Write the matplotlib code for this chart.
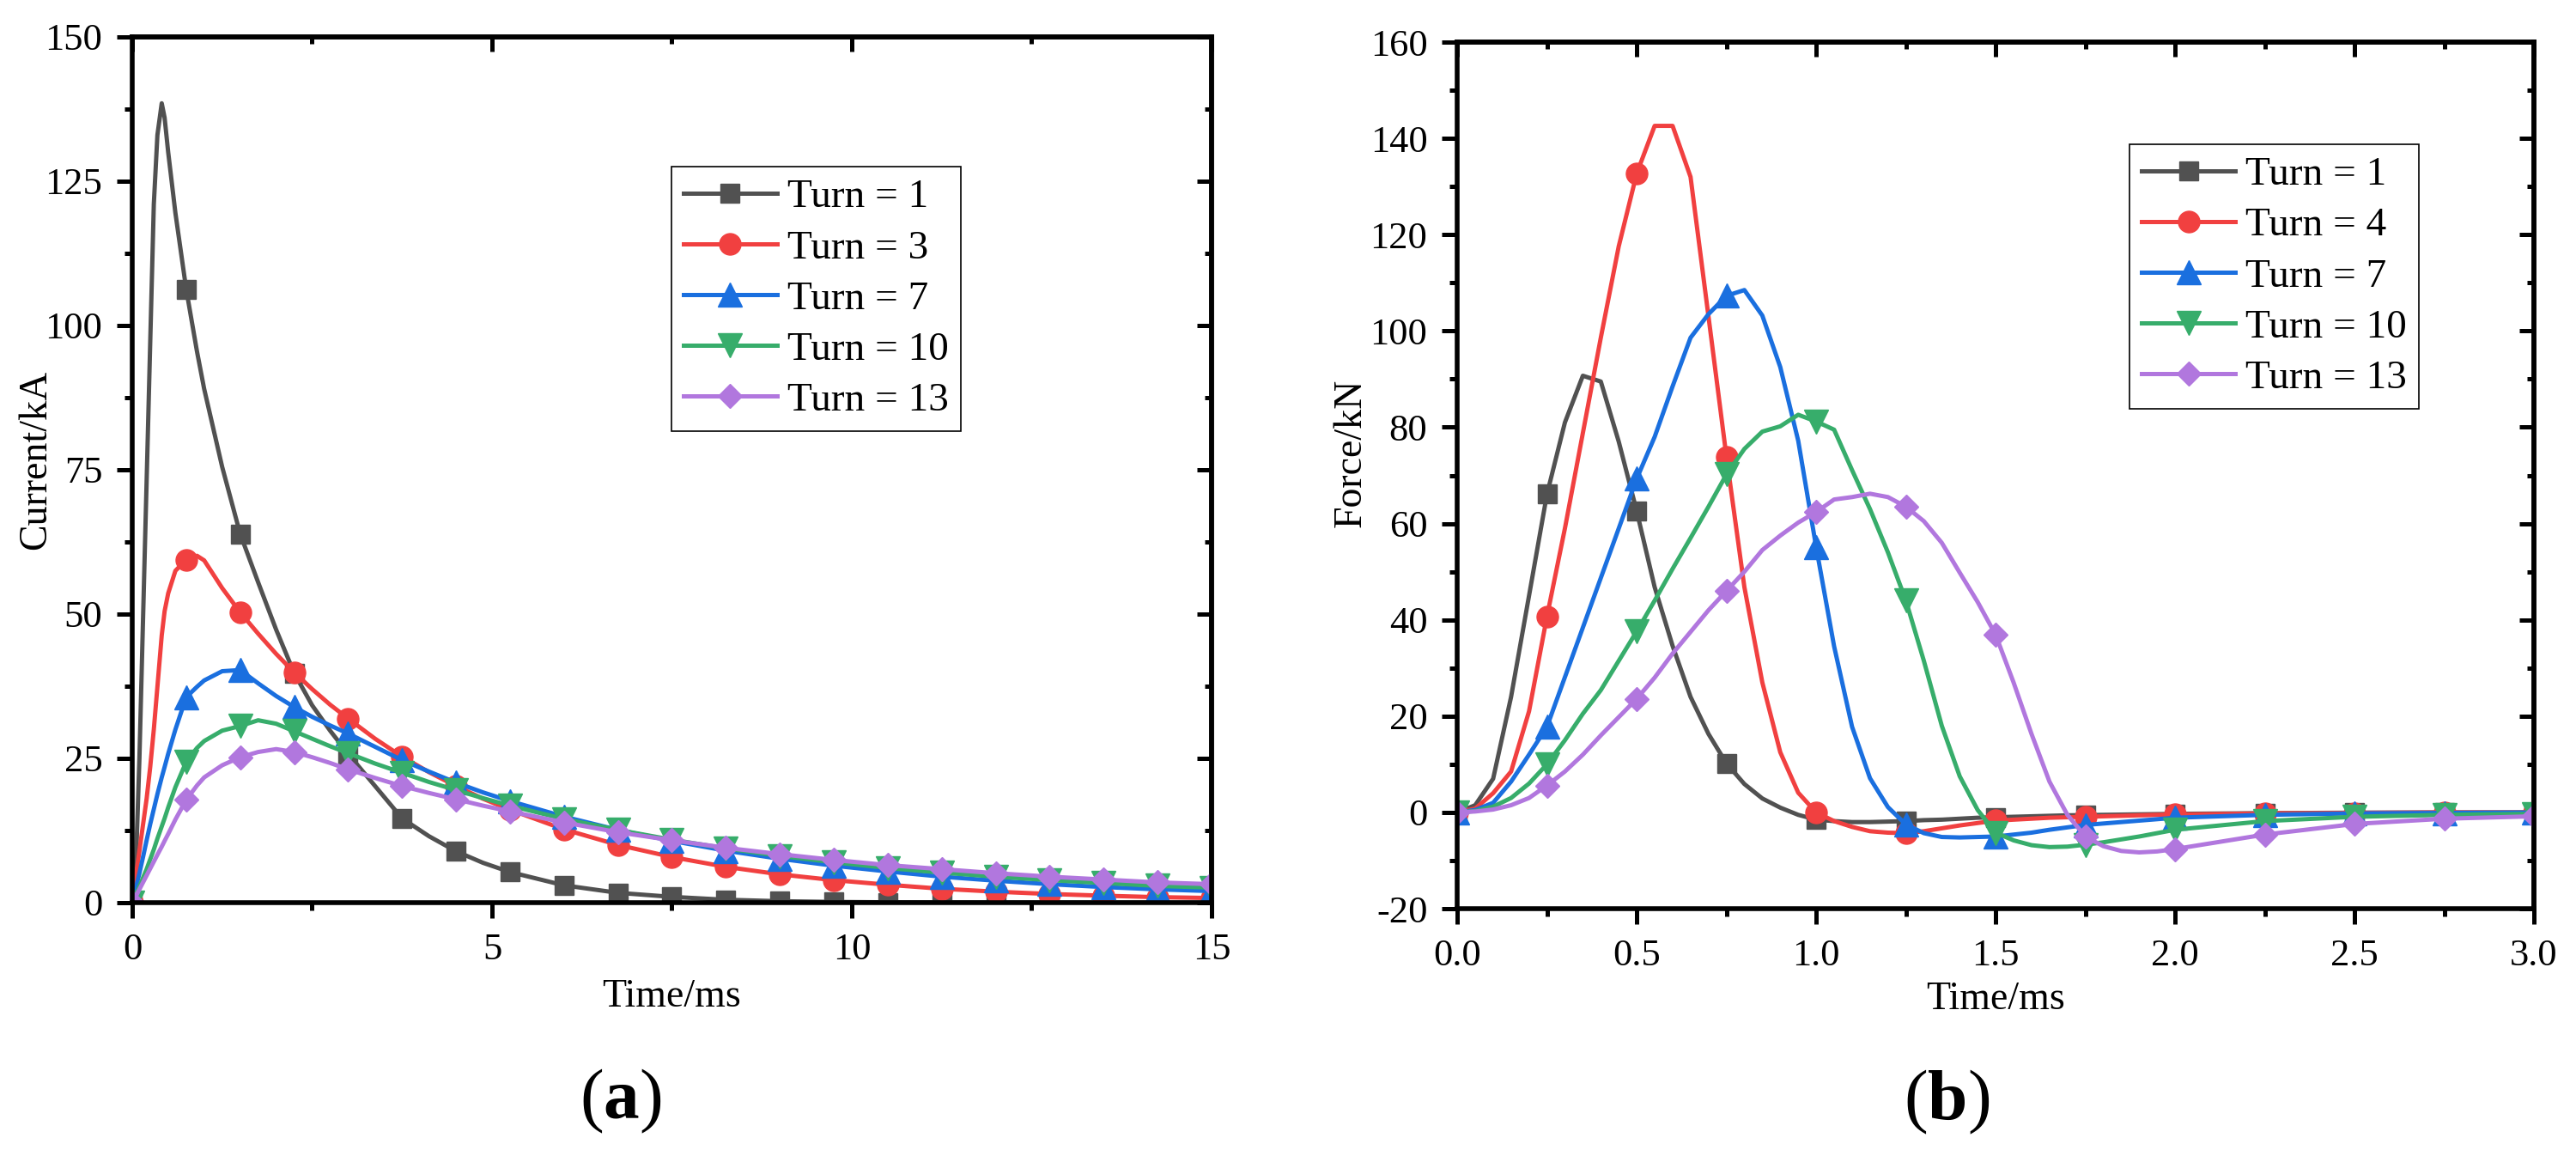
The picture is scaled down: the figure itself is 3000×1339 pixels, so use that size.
import numpy as np
import matplotlib
matplotlib.use('Agg')
import matplotlib.pyplot as plt
from matplotlib.ticker import MultipleLocator

plt.rcParams['font.family'] = ['Liberation Serif', 'DejaVu Serif']
plt.rcParams['axes.unicode_minus'] = False
plt.rcParams['mathtext.fontset'] = 'custom'
plt.rcParams['mathtext.rm'] = 'Liberation Serif'
plt.rcParams['mathtext.bf'] = 'Liberation Serif:bold'

# ---------------- Panel (a): current vs time ----------------
time_a = [0, 0.05, 0.1, 0.15, 0.2, 0.25, 0.3, 0.35, 0.41, 0.45, 0.5, 0.6,
          0.75, 0.9, 1.0, 1.25, 1.5, 1.75, 2.0, 2.25, 2.5, 2.75, 3.0,
          3.375, 3.75, 4.125, 4.5, 4.875, 5.25,
          6.0, 6.75, 7.5, 8.25, 9.0, 9.75, 10.5, 11.25, 12.0, 12.75, 13.5, 14.25, 15.0]
current_turn1 = [0, 6, 25, 49, 73, 97, 121, 133, 138.5, 136, 130, 119.5,
                 106.3, 95.5, 89, 75.5, 63.9, 55.5, 47.3, 39.8, 34.2, 29.8, 25.8,
                 20.2, 14.6, 11.5, 8.9, 6.9, 5.3,
                 3.0, 1.7, 1.0, 0.5, 0.25, 0.12, 0.06, 0.03, 0.02, 0.01, 0, 0, 0]
current_turn3 = [0, 4.5, 9, 13.5, 18, 23.5, 30, 37.4, 46.3, 50.5, 53.6, 57.5,
                 59.4, 60.1, 59.3, 54.5, 50.3, 46.6, 43.1, 39.9, 37, 34.3, 31.9,
                 28.4, 25.3, 22.6, 20.2, 18, 16.1,
                 12.7, 10, 7.9, 6.2, 4.9, 3.9, 3.1, 2.4, 1.9, 1.5, 1.2, 0.95, 0.8]
current_turn7 = [0, 2.5, 5.1, 7.9, 10.8, 13.6, 16.2, 18.8, 21.7, 23.5, 25.8, 30,
                 35.6, 37.4, 38.5, 40.1, 40.3, 38.0, 35.8, 33.9, 32.2, 30.7, 29.3,
                 27.0, 24.7, 22.7, 20.8, 19.1, 17.6,
                 14.9, 12.6, 10.7, 9.0, 7.6, 6.4, 5.4, 4.5, 3.8, 3.2, 2.7, 2.3, 2.0]
current_turn10 = [0, 1.4, 2.8, 4.3, 5.8, 7.5, 9.2, 11.1, 13.2, 14.6, 16.5, 20,
                  24.4, 26.8, 28.0, 29.8, 30.6, 31.6, 31.0, 29.7, 28.4, 27.1, 25.9,
                  24.1, 22.5, 20.9, 19.5, 18.1, 16.8,
                  14.5, 12.6, 10.9, 9.4, 8.1, 7.0, 6.0, 5.2, 4.5, 3.9, 3.4, 2.9, 2.6]
current_turn13 = [0, 1.1, 2.3, 3.5, 4.7, 5.9, 7.1, 8.3, 9.7, 10.7, 11.9, 14.4,
                  17.8, 20.3, 21.7, 23.8, 25.2, 26.1, 26.6, 26.1, 25.2, 24.2, 23.1,
                  21.6, 20.2, 19.0, 17.9, 16.8, 15.8,
                  13.9, 12.2, 10.8, 9.5, 8.4, 7.4, 6.5, 5.8, 5.1, 4.5, 4.0, 3.5, 3.2]
labels_a = ['Turn = 1', 'Turn = 3', 'Turn = 7', 'Turn = 10', 'Turn = 13']

# ---------------- Panel (b): force vs time ----------------
time_b = [0, 0.05, 0.1, 0.15, 0.2, 0.25, 0.3, 0.35, 0.4, 0.45, 0.5, 0.55, 0.6, 0.65,
          0.7, 0.75, 0.8, 0.85, 0.9, 0.95, 1.0, 1.05, 1.1, 1.15, 1.2, 1.25, 1.3, 1.35,
          1.4, 1.45, 1.5, 1.55, 1.6, 1.65, 1.7, 1.75, 1.8, 1.85, 1.9, 1.95, 2.0,
          2.25, 2.5, 2.75, 3.0]
force_turn1 = [0, 1.5, 7, 24, 45, 66.1, 81, 90.7, 89.5, 77, 62.6, 46.8, 34.6, 24,
               16.3, 10.2, 5.9, 2.9, 1.0, -0.5, -1.5, -1.8, -2.0, -2.0, -1.9, -1.8, -1.6, -1.5,
               -1.3, -1.1, -1.0, -0.9, -0.8, -0.7, -0.6, -0.55, -0.5, -0.45, -0.4, -0.35, -0.3,
               -0.15, -0.05, 0, 0]
force_turn4 = [0, 0.8, 4, 8.5, 21, 40.7, 59, 78.8, 98.6, 117.6, 132.7, 142.6, 142.6, 132,
               103, 73.9, 46.8, 27, 12.5, 4.1, 0, -1.8, -3.0, -3.9, -4.2, -4.3, -3.9, -3.3,
               -2.7, -2.2, -1.7, -1.5, -1.3, -1.1, -1.0, -0.9, -0.8, -0.7, -0.6, -0.5, -0.45,
               -0.2, -0.1, 0, 0]
force_turn7 = [0, 0.5, 2, 6.4, 12, 17.8, 28.1, 38.4, 48.7, 59, 69.3, 78, 88.5, 98.6,
               103.5, 107.3, 108.5, 103.2, 92.5, 77.2, 55.1, 34.5, 17.8, 7.1, 1.1, -2.5, -4.3, -5.1,
               -5.2, -5.1, -5.0, -4.6, -4.2, -3.6, -3.1, -2.6, -2.3, -2.0, -1.7, -1.4, -1.1,
               -0.5, -0.2, -0.1, 0]
force_turn10 = [0, 0.3, 1.2, 3, 6, 10, 15, 20.5, 25.4, 31.5, 37.6, 44, 50.6, 57,
                63.5, 70.2, 75.5, 79.1, 80.2, 82.6, 81.2, 79.5, 71.1, 63, 54, 44, 31.5, 18,
                7.5, 0.5, -4.2, -5.8, -6.8, -7.2, -7.1, -6.7, -6.2, -5.6, -5.0, -4.3, -3.6,
                -1.8, -0.9, -0.5, -0.3]
force_turn13 = [0, 0.2, 0.6, 1.5, 3, 5.6, 8.5, 12, 16, 19.8, 23.6, 28, 33, 37.5,
                42, 46, 50, 54.5, 57.5, 60.2, 62.4, 65, 65.5, 66.2, 65.5, 63.5, 60.5, 56,
                49.8, 43.7, 36.9, 27, 16.3, 6.4, -0.5, -5, -7, -8, -8.3, -8.1, -7.6,
                -4.6, -2.4, -1.3, -0.8]
labels_b = ['Turn = 1', 'Turn = 4', 'Turn = 7', 'Turn = 10', 'Turn = 13']

colors = ['#515151', '#F14040', '#1A6FDF', '#37AD6B', '#B177DE']
markers = ['s', 'o', '^', 'v', 'D']
msizes = [8, 9, 10, 10, 7]

fig = plt.figure(figsize=(15, 6.695), dpi=200)
ax_a = fig.add_axes([0.05133, 0.2151, 0.4190, 0.7528])
ax_b = fig.add_axes([0.5657, 0.2098, 0.4180, 0.7536])


def mark_idx(t, step):
    return [i for i, v in enumerate(t) if abs(v / step - round(v / step)) < 1e-6]


def draw(ax, t, series, labels, step):
    idx = mark_idx(t, step)
    for y, lab, c, m, ms in zip(series, labels, colors, markers, msizes):
        ax.plot(t, y, color=c, lw=1.8, marker=m, ms=ms, markevery=idx,
                mfc=c, mec=c, mew=0.5, label=lab)


def style(ax, xmaj, xmin, ymaj, ymin):
    for s in ax.spines.values():
        s.set_linewidth(2)
    ax.xaxis.set_major_locator(MultipleLocator(xmaj))
    ax.xaxis.set_minor_locator(MultipleLocator(xmin))
    ax.yaxis.set_major_locator(MultipleLocator(ymaj))
    ax.yaxis.set_minor_locator(MultipleLocator(ymin))
    ax.tick_params(which='major', direction='out', length=6.5, width=1.8,
                   labelsize=16, pad=6, colors='black')
    ax.tick_params(which='minor', direction='out', length=3.3, width=1.8)
    for lbl in ax.get_xticklabels() + ax.get_yticklabels():
        lbl.set_family('Liberation Serif')
    sx = ax.secondary_xaxis('top')
    sx.xaxis.set_major_locator(MultipleLocator(xmaj))
    sx.xaxis.set_minor_locator(MultipleLocator(xmin))
    sx.tick_params(which='major', direction='in', length=6.2, width=1.8,
                   labeltop=False, labelbottom=False)
    sx.tick_params(which='minor', direction='in', length=3.0, width=1.8)
    sx.spines['top'].set_linewidth(2)
    sy = ax.secondary_yaxis('right')
    sy.yaxis.set_major_locator(MultipleLocator(ymaj))
    sy.yaxis.set_minor_locator(MultipleLocator(ymin))
    sy.tick_params(which='major', direction='in', length=6.2, width=1.8,
                   labelright=False, labelleft=False)
    sy.tick_params(which='minor', direction='in', length=3.0, width=1.8)
    sy.spines['right'].set_linewidth(2)


draw(ax_a, time_a, [current_turn1, current_turn3, current_turn7,
                    current_turn10, current_turn13], labels_a, 0.75)
ax_a.set_xlim(0, 15)
ax_a.set_ylim(0, 150)
style(ax_a, 5, 2.5, 25, 12.5)

draw(ax_b, time_b, [force_turn1, force_turn4, force_turn7,
                    force_turn10, force_turn13], labels_b, 0.25)
ax_b.set_xlim(0, 3)
ax_b.set_ylim(-20, 160)
style(ax_b, 0.5, 0.25, 20, 10)

for ax, ylab, ylx, yly, xly, anchor in [
        (ax_a, 'Current/kA', -0.0803, 0.512, -0.120, (0.4996, 0.850)),
        (ax_b, 'Force/kN', -0.0900, 0.526, -0.116, (0.6244, 0.882))]:
    ax.set_xlabel('Time/ms', fontsize=16.5, family='Liberation Serif')
    ax.xaxis.set_label_coords(0.5, xly)
    ax.xaxis.label.set_verticalalignment('baseline')
    ax.set_ylabel(ylab, fontsize=16.5, family='Liberation Serif')
    ax.yaxis.set_label_coords(ylx, yly)
    ax.yaxis.label.set_verticalalignment('baseline')
    leg = ax.legend(loc='upper left', bbox_to_anchor=anchor, borderaxespad=0,
                    prop={'family': 'Liberation Serif', 'size': 17},
                    handlelength=2.3, handletextpad=0.25,
                    labelspacing=0.34, borderpad=0.3, fancybox=False,
                    framealpha=1, edgecolor='black')
    leg.get_frame().set_linewidth(0.6)

fig.text(723 / 3000, 1 - 1302 / 1339, r'($\mathbf{a}$)', ha='center',
         va='baseline', fontsize=30)
fig.text(2267 / 3000, 1 - 1303 / 1339, r'($\mathbf{b}$)', ha='center',
         va='baseline', fontsize=30)

fig.savefig('out.png', dpi=200, facecolor='white')
